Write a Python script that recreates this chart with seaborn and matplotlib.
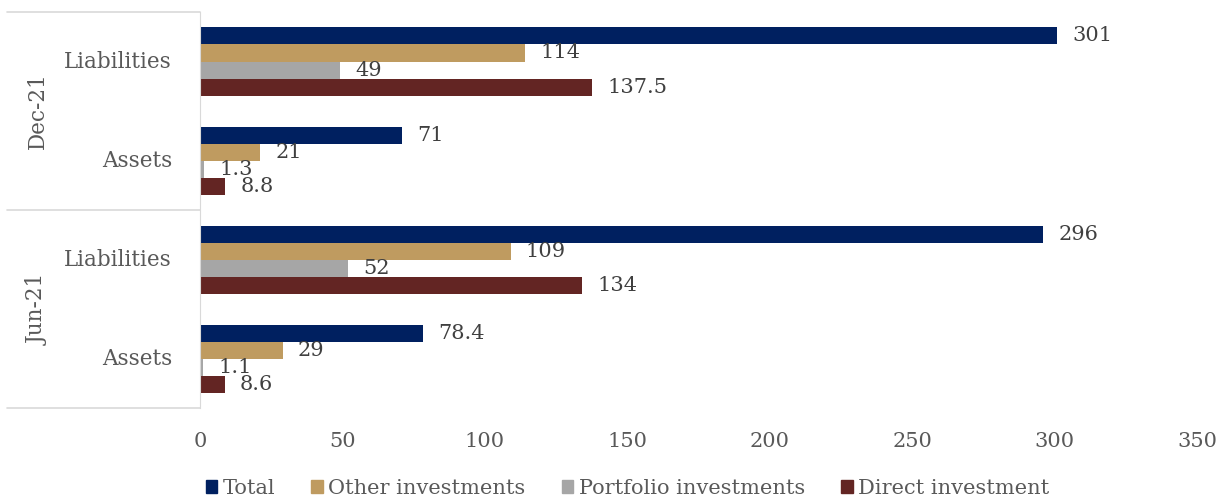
import pandas as pd
import seaborn as sns
import matplotlib.pyplot as plt
from matplotlib.patches import Patch

# Datos
periodos = ["Dec-21", "Dec-21", "Jun-21", "Jun-21"]
tipos = ["Liabilities", "Assets", "Liabilities", "Assets"]
series = ["Total", "Other investments", "Portfolio investments", "Direct investment"]
total = [301, 71, 296, 78.4]
other_inv = [114, 21, 109, 29]
portfolio_inv = [49, 1.3, 52, 1.1]
direct_inv = [137.5, 8.8, 134, 8.6]
colores = ["#002060", "#BF9B60", "#A6A6A6", "#632523"]

categorias = [f"{p} {t}" for p, t in zip(periodos, tipos)]
filas = []
for nombre, valores in zip(series, [total, other_inv, portfolio_inv, direct_inv]):
    for cat, v in zip(categorias, valores):
        filas.append({"categoria": cat, "serie": nombre, "valor": v})
df = pd.DataFrame(filas)

sns.set_style("white")
plt.rcParams["font.family"] = ["DejaVu Serif"]
gris = "#595959"
linea = "#D9D9D9"

fig = plt.figure(figsize=(12.16, 4.99), dpi=100)
ax = fig.add_axes([0.1645, 0.182, 0.8199, 0.794])

sns.barplot(data=df, y="categoria", x="valor", hue="serie", order=categorias,
            hue_order=series, palette=colores, orient="h", width=0.687,
            saturation=1, linewidth=0, legend=False, ax=ax)

# Etiquetas de datos
for cont, nombre in zip(ax.containers, series):
    vals = df[df["serie"] == nombre]["valor"].tolist()
    ax.bar_label(cont, labels=[f"{v:g}" for v in vals], padding=11,
                 fontsize=15, color="#404040")

ax.set_xlim(0, 350)
ax.set_ylim(3.5, -0.5)
ax.set_xticks(range(0, 351, 50))
ax.tick_params(axis="x", length=0, pad=17, labelsize=15, labelcolor=gris)
ax.set_yticks([])
ax.set_xlabel("")
ax.set_ylabel("")
for s in ["top", "right", "bottom"]:
    ax.spines[s].set_visible(False)
ax.spines["left"].set_color(linea)

# Eje de categorias con dos niveles
tr = ax.get_yaxis_transform()
for i, t in enumerate(tipos):
    ax.text(-0.028, i, t, transform=tr, ha="right", va="center",
            fontsize=15.5, color=gris)
for i, p in enumerate(["Dec-21", "Jun-21"]):
    ax.text(-0.163, 2 * i + 0.5, p, transform=tr, ha="center", va="center",
            rotation=90, fontsize=15.5, color=gris)
for y in [-0.5, 1.5, 3.5]:
    ax.plot([-0.1936, 0], [y, y], transform=tr, color=linea, lw=1.2,
            clip_on=False)

handles = [Patch(color=c, label=n) for c, n in zip(colores, series)]
fig.legend(handles=handles, loc="lower center", bbox_to_anchor=(0.516, -0.035),
           ncol=4, frameon=False, fontsize=15, labelcolor=gris,
           handlelength=0.55, handleheight=0.55, handletextpad=0.25,
           columnspacing=1.75)

fig.savefig("out.png", dpi=100)
